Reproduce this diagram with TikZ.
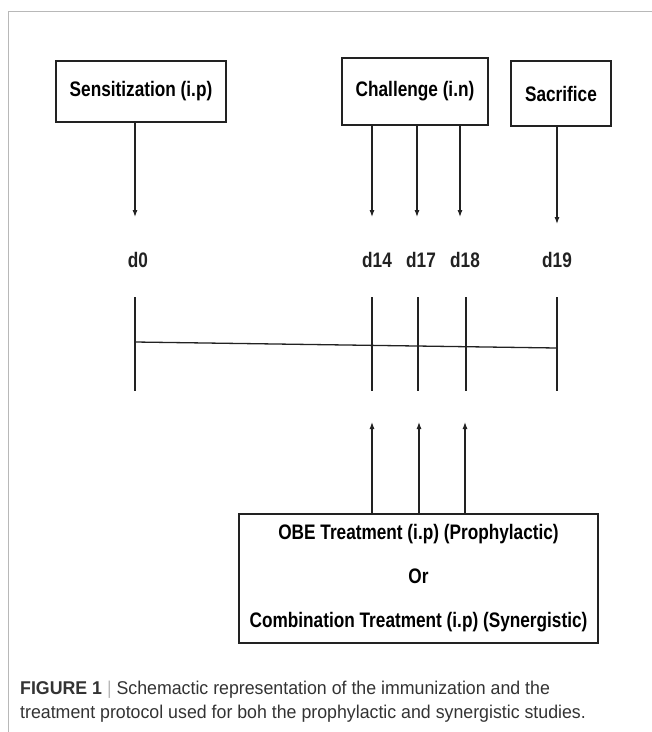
\documentclass[tikz,border=0pt]{standalone}
\usepackage{fontspec}
\usepackage{tikz}
\usetikzlibrary{arrows.meta,positioning,calc}
\newfontfamily\labelfont{Liberation Sans}[FakeStretch=0.82]
\newfontfamily\capfont{Liberation Sans}[FakeStretch=0.96]
\definecolor{ink}{HTML}{222222}
\definecolor{frame}{HTML}{B8B8B8}
\definecolor{captxt}{HTML}{333333}

\begin{document}
\begin{tikzpicture}[
    x=1pt,y=-1pt,
    box/.style={draw=ink,line width=1.2pt,font=\labelfont\bfseries\fontsize{21}{44}\selectfont,align=center,inner sep=0pt},
    day/.style={font=\labelfont\bfseries\fontsize{21}{22}\selectfont,text=ink},
    arr/.style={-{Latex[length=7pt,width=5pt]},ink,line width=1.1pt},
    tick/.style={ink,line width=1.3pt}
]
\useasboundingbox (0,0) rectangle (652,732);
% page frame
\draw[frame,line width=1pt] (652,11) -- (8,11) -- (8,732);

% top boxes
\node[box,minimum width=170pt,minimum height=61pt] (sens) at (141,91.5) {Sensitization (i.p)};
\node[box,minimum width=146pt,minimum height=67pt] (chal) at (415,91.5) {Challenge (i.n)};
\node[box,minimum width=100pt,minimum height=65pt] (sacr) at (561,93.5) {Sacrifice};

% days
\node[day] (d0) at (138,260) {d0};
\node[day] (d14) at (377,260) {d14};
\node[day] (d17) at (421,260) {d17};
\node[day] (d18) at (465,260) {d18};
\node[day] (d19) at (557,260) {d19};

% ticks on the time line
\foreach \n/\x in {t0/135,t14/372,t17/418,t18/466,t19/557}{
    \coordinate (\n) at (\x,297);
    \coordinate (\n b) at (\x,391);
    \draw[tick] (\n) -- (\n b);
}
\draw[ink,line width=1.3pt] (135,342) -- (557,348);

% arrow ends
\coordinate (e0) at (135,217);
\coordinate (e14) at (372,217);
\coordinate (e17) at (417,217);
\coordinate (e18) at (460,217);
\coordinate (e19) at (557,224);
\draw[arr] (sens.south -| e0) -- (e0);
\draw[arr] (chal.south -| e14) -- (e14);
\draw[arr] (chal.south -| e17) -- (e17);
\draw[arr] (chal.south -| e18) -- (e18);
\draw[arr] (sacr.south -| e19) -- (e19);

% treatment box
\node[box,minimum width=359pt,minimum height=129pt] (treat) at (418.5,578.5)
    {OBE Treatment (i.p) (Prophylactic)\\Or\\Combination Treatment (i.p) (Synergistic)};
\coordinate (u14) at (372,422);
\coordinate (u17) at (419,422);
\coordinate (u18) at (465,422);
\draw[arr] (treat.north -| u14) -- (u14);
\draw[arr] (treat.north -| u17) -- (u17);
\draw[arr] (treat.north -| u18) -- (u18);

% caption
\node[anchor=west,text=captxt,font=\capfont\fontsize{18.5}{24}\selectfont,align=left,inner sep=0pt] (cap) at (20,702)
    {\textbf{FIGURE 1} {\color{frame}|} Schemactic representation of the immunization and the\\
     treatment protocol used for boh the prophylactic and synergistic studies.};
\end{tikzpicture}
\end{document}
